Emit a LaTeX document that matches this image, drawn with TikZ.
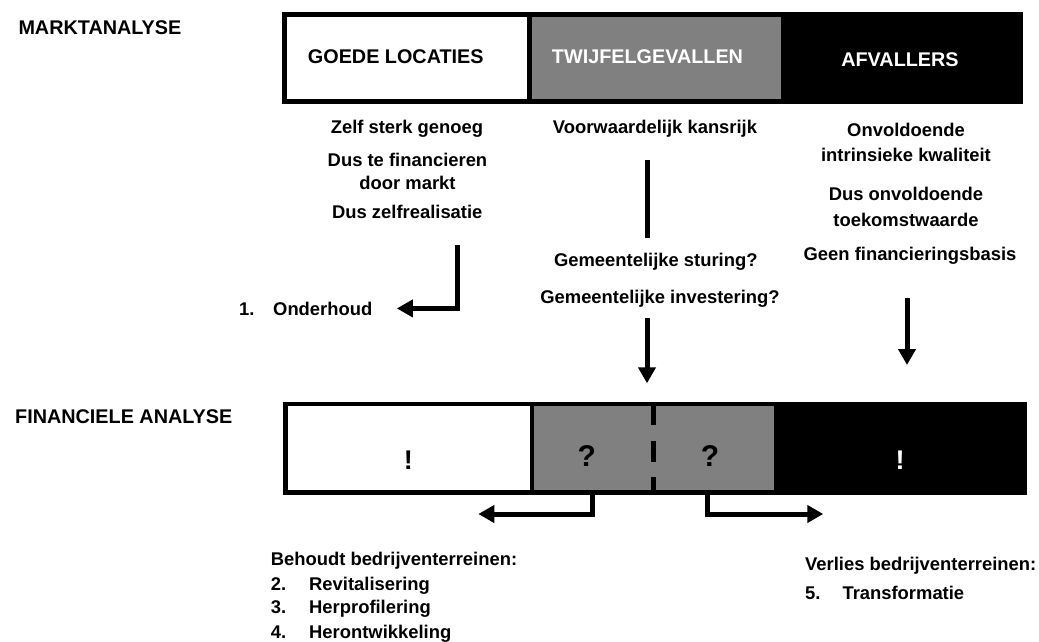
\documentclass[tikz,border=0pt]{standalone}
\usepackage{fontspec}
\setmainfont{Liberation Sans}
\usetikzlibrary{arrows.meta,positioning}
\definecolor{twijfelgrijs}{RGB}{128,128,128}

\begin{document}
\begin{tikzpicture}[x=1pt,y=-1pt,->,>={Triangle[length=16pt,width=17pt]},
    line width=5pt,
    bar/.style={draw=black,rectangle,line width=4.5pt,inner sep=0pt,outer sep=0pt,
        minimum height=87pt},
    head/.style={font=\fontsize{19.8}{24}\selectfont\bfseries,inner sep=0pt,anchor=base},
    txt/.style={font=\fontsize{18.4}{25}\selectfont\bfseries,inner sep=0pt,
        align=center,anchor=base},
    lijst/.style={txt,align=left,anchor=base west},
    sign/.style={font=\fontsize{27}{30}\selectfont\bfseries,inner sep=0pt,anchor=base},
    vraag/.style={font=\fontsize{30}{32}\selectfont\bfseries,inner sep=0pt,anchor=base}]
    \useasboundingbox (0,0) rectangle (1039,641);

    \node[head,anchor=base west] (markt)   at (16,34.3)    {MARKTANALYSE};
    \node[head,anchor=base west] (financ)  at (12.7,423.3) {FINANCIELE ANALYSE};

    \node[bar,fill=white,minimum width=245pt]          (top_1) at (407,58)    {};
    \node[bar,fill=twijfelgrijs,minimum width=253.5pt] (top_2) at (656.25,58) {};
    \node[bar,fill=black,minimum width=238pt]          (top_3) at (902,58)    {};
    \node[head]            (goede)   at (395.8,63.3) {GOEDE LOCATIES};
    \node[head,text=white] (twijfel) at (647.5,63.3) {TWIJFELGEVALLEN};
    \node[head,text=white] (afval)   at (900,66.7)   {AFVALLERS};

    \node[txt] (zelf)      at (407,133.3)   {Zelf sterk genoeg};
    \node[txt] (markt_fin) at (407.5,189.3) {Dus te financieren\\[-2.4pt]door markt};
    \node[txt] (zelfreal)  at (407.3,218.3) {Dus zelfrealisatie};
    \node[txt] (kansrijk)  at (655,133.3)   {Voorwaardelijk kansrijk};
    \node[txt] (sturing)   at (655.8,266.7) {Gemeentelijke sturing?};
    \node[txt] (invest)    at (660,303.3)   {Gemeentelijke investering?};
    \node[txt] (kwaliteit) at (906,161.7)   {Onvoldoende\\intrinsieke kwaliteit};
    \node[txt] (waarde)    at (906,226)     {Dus onvoldoende\\[1pt]toekomstwaarde};
    \node[txt] (basis)     at (910,260)     {Geen financieringsbasis};
    \node[lijst] (onderhoud) at (236.7,315) {\makebox[34pt][l]{1.}Onderhoud};

    \node[bar,fill=white,minimum width=246.5pt,minimum height=88.5pt]   (bot_1) at (408.75,448.25) {};
    \node[bar,fill=twijfelgrijs,minimum width=244pt,minimum height=88.5pt] (bot_2) at (654,448.25) {};
    \node[bar,fill=black,minimum width=249pt,minimum height=88.5pt]     (bot_3) at (900.5,448.25) {};
    \draw[-,dash pattern=on 21pt off 15.5pt] ([xshift=-1pt]bot_2.north) -- ([xshift=-1pt]bot_2.south);
    \node[sign]             (uitroep_1) at (408.3,469.3) {!};
    \node[vraag]            (vraag_1)   at (586.7,466.7) {?};
    \node[vraag]            (vraag_2)   at (710,466.7)   {?};
    \node[sign,text=white]  (uitroep_2) at (900,469.3)   {!};

    \node[lijst] (behoud)  at (268.3,638.3) {Behoudt bedrijventerreinen:\\
        \makebox[38.4pt][l]{2.}Revitalisering\\[-1.7pt]
        \makebox[38.4pt][l]{3.}Herprofilering\\
        \makebox[38.4pt][l]{4.}Herontwikkeling};
    \node[lijst] (verlies) at (802.7,599.3) {Verlies bedrijventerreinen:\\[3.6pt]
        \makebox[37.3pt][l]{5.}Transformatie};

    \coordinate (links_top)   at (457.5,245);
    \coordinate (mid_a)       at (647,160);
    \coordinate (mid_b)       at (647,238);
    \coordinate (mid_c)       at (647,318);
    \coordinate (rechts_top)  at (907,298);
    \coordinate (behoud_pijl) at (478.3,514);
    \coordinate (verlies_pijl) at (823.3,514);

    \draw[shorten >=22pt] (links_top) |- (onderhoud);
    \draw[-] (mid_a) -- (mid_b);
    \draw[shorten >=20.7pt] (mid_c) -- (mid_c |- bot_2.north);
    \draw[shorten >=39pt] (rechts_top) -- (rechts_top |- bot_3.north);
    \draw ([xshift=-61.5pt]bot_2.south) |- (behoud_pijl);
    \draw ([xshift=53.5pt]bot_2.south) |- (verlies_pijl);
\end{tikzpicture}
\end{document}
